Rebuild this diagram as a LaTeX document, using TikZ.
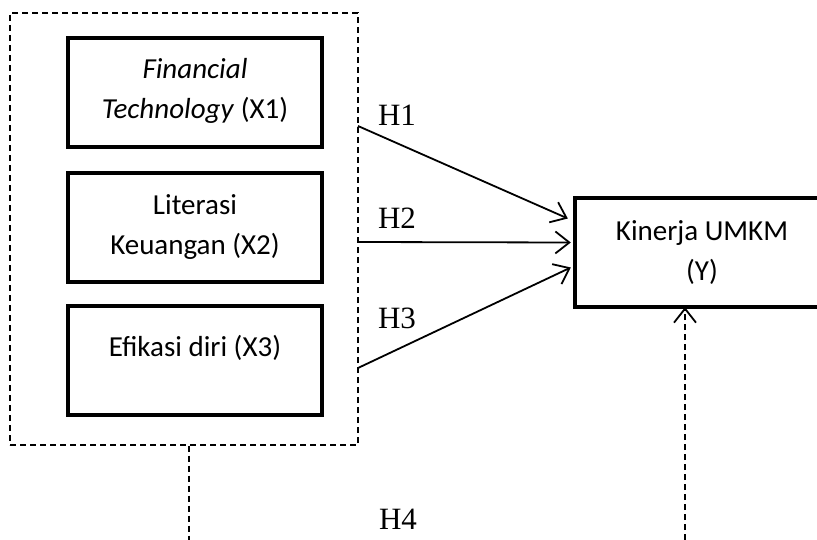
\documentclass[tikz,border=0pt]{standalone}
\usepackage{fontspec}
\setmainfont{Liberation Serif}
\newfontfamily\boxfont{Carlito}
\usetikzlibrary{arrows.meta,calc}
\begin{document}
\begin{tikzpicture}[x=1pt,y=-1pt,
  varbox/.style={draw,line width=4pt,minimum width=254pt,minimum height=109pt,inner sep=0pt},
  vartext/.style={align=center,inner sep=0pt,font=\boxfont\fontsize{29}{40}\selectfont},
  hyp/.style={font=\fontsize{31}{36}\selectfont},
  dashline/.style={line width=1.3pt,dash pattern=on 6pt off 4pt},
  >={Straight Barb[length=14pt,width=22pt,line width=1.8pt]}]
	\useasboundingbox (0,0) rectangle (817,540);
	\clip (0,0) rectangle (817,540);
	% independent variables
	\node (grp) [draw,dashline,minimum width=348pt,minimum height=432pt,inner sep=0pt] at (184,229) {};
	\node (x1) [varbox] at (195,92.5) {};
	\node (x2) [varbox] at (195,227.5) {};
	\node (x3) [varbox] at (195,360) {};
	\node (t1) [vartext] at (195,91) {\textit{Financial}\\\textit{Technology} (X1)};
	\node (t2) [vartext] at (195,227) {Literasi\\Keuangan (X2)};
	\node (t3) [vartext] at (195,348) {Efikasi diri (X3)};
	% dependent variable (runs past the right edge)
	\node (y) [minimum width=254pt,minimum height=109pt,inner sep=0pt] at (702,252.5) {};
	\draw[line width=4pt] ($(y.north east)+(40,0)$) -- (y.north west) -- (y.south west) -- ($(y.south east)+(40,0)$);
	\node (ty) [vartext] at (702,253) {Kinerja UMKM\\(Y)};
	% arrows
	\coordinate (s1) at (358,126);
	\coordinate (s2) at (358,242);
	\coordinate (s3) at (358,368);
	\coordinate (e1) at ($(y.west)+(-7,-34)$);
	\coordinate (e2) at ($(y.west)+(-4,-10)$);
	\coordinate (e3) at ($(y.west)+(-4,15)$);
	\draw[->,line width=1.8pt] (s1) -- (e1);
	\draw[->,line width=1.8pt] (s2) -- (e2);
	\draw[->,line width=1.8pt] (s3) -- (e3);
	\node [hyp] at (397,115) {H1};
	\node [hyp] at (397,218) {H2};
	\node [hyp] at (397,318) {H3};
	% moderating path
	\coordinate (b1) at (189,540);
	\coordinate (b2) at (685,540);
	\draw[dashline] (grp.south -| b1) -- (b1);
	\draw[dashline,->] (b2) -- (y.south -| b2);
	\node [hyp] at (398,519) {H4};
\end{tikzpicture}
\end{document}
